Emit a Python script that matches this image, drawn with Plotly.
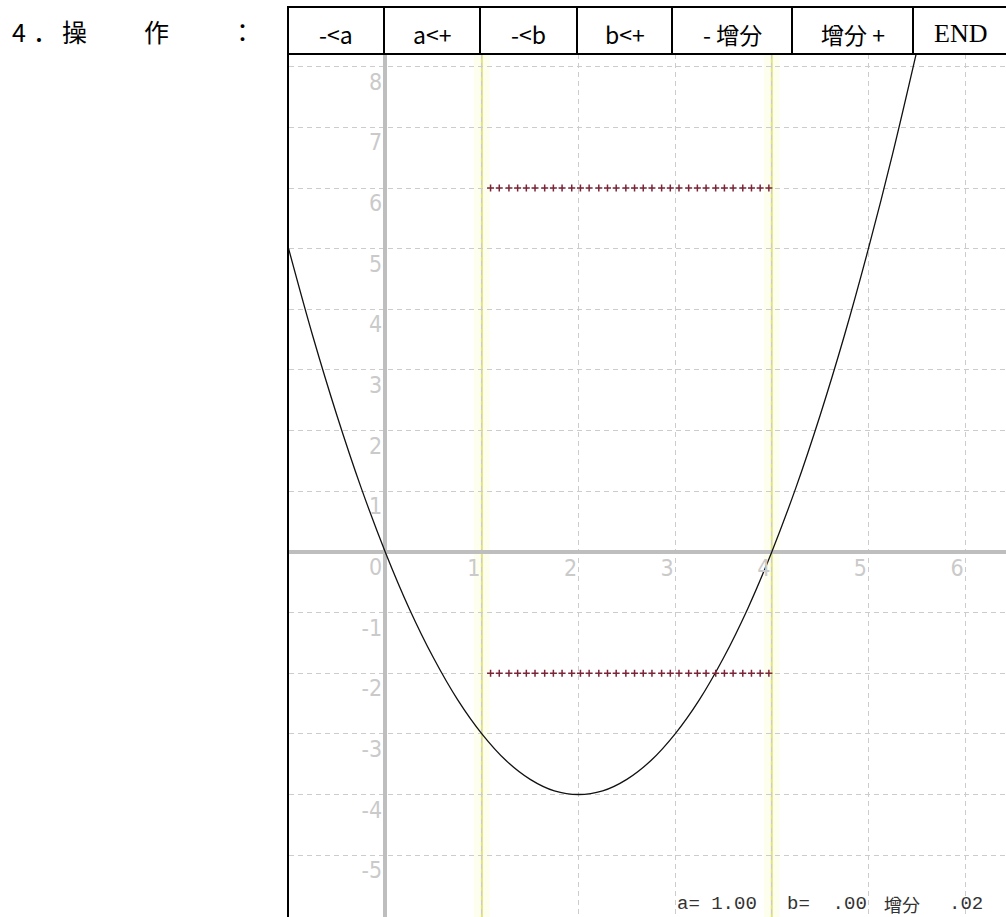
import plotly.graph_objects as go

# ---------------- data ----------------
curve_x = [-1.0, -0.75, -0.5, -0.25, 0.0, 0.25, 0.5, 0.75, 1.0, 1.25, 1.5, 1.75, 2.0,
           2.25, 2.5, 2.75, 3.0, 3.25, 3.5, 3.75, 4.0, 4.25, 4.5, 4.75, 5.0, 5.25, 5.5]
curve_y = [5.0, 3.56, 2.25, 1.06, 0.0, -0.94, -1.75, -2.44, -3.0, -3.44, -3.75, -3.94, -4.0,
           -3.94, -3.75, -3.44, -3.0, -2.44, -1.75, -0.94, 0.0, 1.06, 2.25, 3.56, 5.0, 6.56, 8.25]

dots_x = [1.09, 1.18, 1.28, 1.37, 1.46, 1.55, 1.65, 1.74, 1.83, 1.93, 2.02, 2.11, 2.21, 2.30,
          2.39, 2.49, 2.58, 2.67, 2.76, 2.86, 2.95, 3.04, 3.14, 3.23, 3.32, 3.42, 3.51, 3.60,
          3.70, 3.79, 3.88, 3.97]
dot_levels = [6.0, -2.0]

bound_lines = [1, 4]

x_ticks = [1, 2, 3, 4, 5, 6]
y_ticks = [-5, -4, -3, -2, -1, 0, 1, 2, 3, 4, 5, 6, 7, 8]

buttons = ["-<a", "a<+", "-<b", "b<+", "- 增分", "增分 +", "END"]
param_a = "1.00"
param_b = ".00"
param_step = ".02"

# ---------------- layout helpers ----------------
W, H = 1006, 917
x_range = [-0.996, 6.424]
y_range = [-6.02, 8.21]
xdom = [289 / W, 1.0]
ydom = [0.0, 1 - 54 / H]


def px(v):
    return v / W


def py(v):
    return 1 - v / H


tick_font = dict(family="Liberation Sans Narrow, DejaVu Sans Condensed, sans-serif",
                 size=23, color="#cacaca")

fig = go.Figure()

# curve
fig.add_trace(go.Scatter(x=curve_x, y=curve_y, mode="lines", line_shape="spline",
                         line=dict(color="#111111", width=1.3), hoverinfo="skip",
                         showlegend=False))

# dotted levels
for lv in dot_levels:
    fig.add_trace(go.Scatter(x=dots_x, y=[lv] * len(dots_x), mode="markers",
                             marker=dict(symbol="cross-thin", size=5,
                                         line=dict(color="#7a2638", width=1.5)),
                             hoverinfo="skip", showlegend=False))

shapes = []
# yellow boundary lines with faint halo
for bx in bound_lines:
    shapes.append(dict(type="line", xref="x", yref="y domain", x0=bx, x1=bx, y0=0, y1=1,
                       line=dict(color="rgba(253,253,225,0.55)", width=16), layer="below"))
    shapes.append(dict(type="line", xref="x", yref="y domain", x0=bx, x1=bx, y0=0, y1=1,
                       line=dict(color="#e0e47e", width=2), layer="below"))

# header buttons
edges = [288, 384, 480, 577, 672, 792, 913, 1007]
top, bot = 7, 54
shapes.append(dict(type="rect", xref="paper", yref="paper", x0=px(288), x1=px(1008),
                   y0=py(bot), y1=py(top), line=dict(color="black", width=2)))
for e in edges[1:-1]:
    shapes.append(dict(type="line", xref="paper", yref="paper", x0=px(e), x1=px(e),
                       y0=py(bot), y1=py(top), line=dict(color="black", width=2)))
# left frame border
shapes.append(dict(type="line", xref="paper", yref="paper", x0=px(288), x1=px(288),
                   y0=0, y1=py(top), line=dict(color="black", width=2)))

annotations = []
for i, lab in enumerate(buttons):
    cx = (edges[i] + edges[i + 1]) / 2
    if lab == "END":
        f = dict(family="Liberation Serif, Times New Roman, serif", size=26, color="black")
    else:
        f = dict(family="Noto Sans CJK JP, Liberation Sans, sans-serif", size=23, color="black")
    annotations.append(dict(x=px(cx), y=py(34), xref="paper", yref="paper", text=lab,
                            showarrow=False, xanchor="center", yanchor="middle", font=f))

# left caption
cap_font = dict(family="Noto Sans CJK JP, sans-serif", size=25, color="black")
for ch, cx in [("4", 19), ("．", 45), ("操", 74), ("作", 156), ("：", 242)]:
    annotations.append(dict(x=px(cx), y=py(31), xref="paper", yref="paper", text=ch,
                            showarrow=False, xanchor="center", yanchor="middle", font=cap_font))

# status line
st_font = dict(family="Liberation Mono, DejaVu Sans Mono, monospace", size=19, color="#333333")
for txt, lx in [("a= " + param_a, 675), ("b=  " + param_b, 785), ("增分", 882),
                (param_step, 947)]:
    f = dict(st_font)
    if txt == "增分":
        f = dict(family="Noto Sans CJK JP, sans-serif", size=18, color="#333333")
    annotations.append(dict(x=px(lx), y=py(904), xref="paper", yref="paper", text=txt,
                            showarrow=False, xanchor="left", yanchor="middle", font=f))

# axis positions through the scales
ypos_axis = xdom[0] + (0 - x_range[0]) / (x_range[1] - x_range[0]) * (xdom[1] - xdom[0])
xpos_axis = ydom[0] + (0 - y_range[0]) / (y_range[1] - y_range[0]) * (ydom[1] - ydom[0])

fig.update_layout(
    width=W, height=H,
    margin=dict(l=0, r=0, t=0, b=0),
    paper_bgcolor="white", plot_bgcolor="white",
    showlegend=False,
    shapes=shapes,
    annotations=annotations,
    xaxis=dict(domain=xdom, range=x_range, anchor="free", position=xpos_axis,
               tickmode="array", tickvals=x_ticks, ticktext=[str(v) for v in x_ticks],
               showgrid=True, gridcolor="#cccccc", griddash="5px,4px", gridwidth=1,
               zeroline=True, zerolinecolor="#bebebe", zerolinewidth=4,
               showline=False, ticks="", tickfont=tick_font,
               ticklabelshift=-8, ticklabelstandoff=0, fixedrange=True),
    yaxis=dict(domain=ydom, range=y_range, anchor="free", position=ypos_axis,
               tickmode="array", tickvals=y_ticks, ticktext=[str(v) for v in y_ticks],
               showgrid=True, gridcolor="#cccccc", griddash="5px,4px", gridwidth=1,
               zeroline=True, zerolinecolor="#bebebe", zerolinewidth=4,
               showline=False, ticks="", tickfont=tick_font,
               ticklabelshift=15, ticklabelstandoff=3, fixedrange=True),
)

fig.write_html("out.html", config={"displayModeBar": False},
               post_script="document.body.style.margin='0';document.body.style.overflow='hidden';")
